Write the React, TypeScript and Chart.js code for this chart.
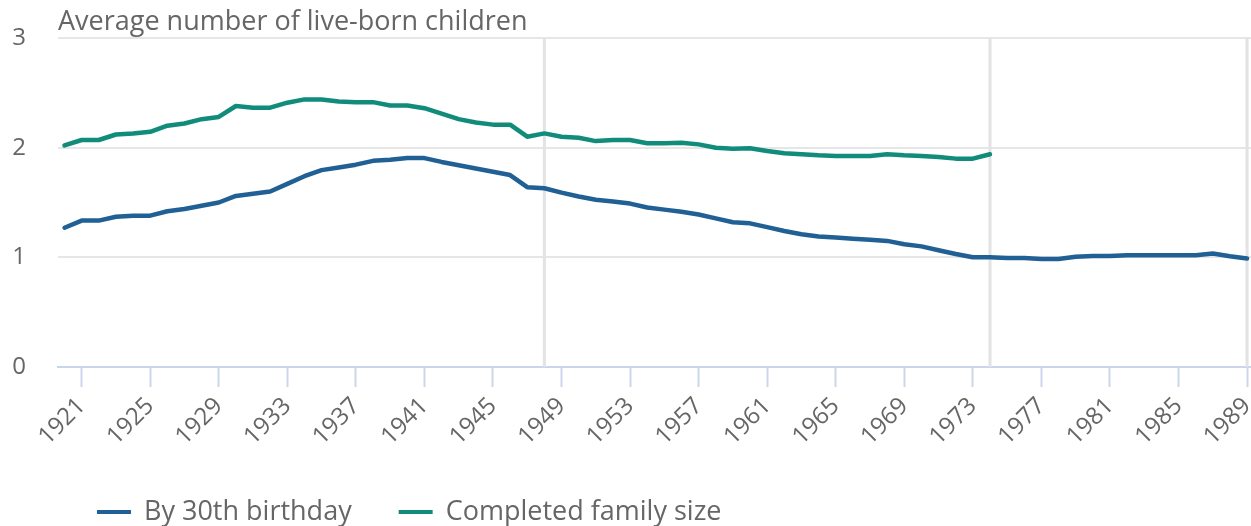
import React, { useEffect, useRef } from "react";
import { Chart, registerables } from "chart.js";

Chart.register(...registerables);

// ---------- data ----------
const years = [
  1920, 1921, 1922, 1923, 1924, 1925, 1926, 1927, 1928, 1929,
  1930, 1931, 1932, 1933, 1934, 1935, 1936, 1937, 1938, 1939,
  1940, 1941, 1942, 1943, 1944, 1945, 1946, 1947, 1948, 1949,
  1950, 1951, 1952, 1953, 1954, 1955, 1956, 1957, 1958, 1959,
  1960, 1961, 1962, 1963, 1964, 1965, 1966, 1967, 1968, 1969,
  1970, 1971, 1972, 1973, 1974, 1975, 1976, 1977, 1978, 1979,
  1980, 1981, 1982, 1983, 1984, 1985, 1986, 1987, 1988, 1989,
];

const by30thBirthday = [
  1.27, 1.335, 1.335, 1.37, 1.38, 1.38, 1.42, 1.44, 1.47, 1.5,
  1.56, 1.58, 1.6, 1.67, 1.74, 1.795, 1.82, 1.845, 1.88, 1.89,
  1.905, 1.905, 1.87, 1.84, 1.81, 1.78, 1.75, 1.64, 1.63, 1.59,
  1.555, 1.525, 1.51, 1.49, 1.455, 1.435, 1.415, 1.39, 1.355, 1.32,
  1.31, 1.275, 1.24, 1.21, 1.19, 1.18, 1.17, 1.16, 1.15, 1.12,
  1.1, 1.065, 1.03, 1.0, 1.0, 0.995, 0.995, 0.985, 0.985, 1.005,
  1.013, 1.013, 1.02, 1.02, 1.02, 1.02, 1.02, 1.035, 1.01, 0.99,
];

// Completed family size: 1920 to 1974 only
const completedFamilySize = [
  2.02, 2.07, 2.07, 2.12, 2.13, 2.145, 2.2, 2.22, 2.26, 2.28,
  2.38, 2.365, 2.365, 2.41, 2.44, 2.44, 2.42, 2.415, 2.415, 2.385,
  2.385, 2.36, 2.31, 2.26, 2.23, 2.21, 2.21, 2.1, 2.13, 2.1,
  2.09, 2.06, 2.07, 2.07, 2.04, 2.04, 2.045, 2.03, 2.0, 1.99,
  1.995, 1.97, 1.95, 1.94, 1.93, 1.925, 1.925, 1.925, 1.94, 1.93,
  1.925, 1.915, 1.9, 1.9, 1.94,
];

const xTickYears = [
  1921, 1925, 1929, 1933, 1937, 1941, 1945, 1949, 1953, 1957,
  1961, 1965, 1969, 1973, 1977, 1981, 1985, 1989,
];
const yTickValues = [0, 1, 2, 3];
const plotLineYears = [1948, 1974, 1989];

const seriesNames = ["By 30th birthday", "Completed family size"];
const seriesColors = ["#206095", "#118c7b"];
const axisTitle = "Average number of live-born children";

// ---------- styling ----------
const FONT = "'Open Sans', sans-serif";
const TEXT_COLOR = "#666666";
const W = 1251;
const H = 526;

const plotLinesPlugin = {
  id: "plotLines",
  beforeDatasetsDraw(chart: any) {
    const { ctx, chartArea, scales } = chart;
    ctx.save();
    ctx.strokeStyle = "#e3e3e3";
    ctx.lineWidth = 3;
    for (const yr of plotLineYears) {
      const x = scales.x.getPixelForValue(yr);
      ctx.beginPath();
      ctx.moveTo(x, chartArea.top);
      ctx.lineTo(x, chartArea.bottom);
      ctx.stroke();
    }
    ctx.restore();
  },
};

const textPlugin = {
  id: "textPlugin",
  afterDraw(chart: any) {
    const { ctx, chartArea } = chart;
    ctx.save();
    // axis title
    ctx.font = `27px ${FONT}`;
    ctx.fillStyle = TEXT_COLOR;
    ctx.textAlign = "left";
    ctx.textBaseline = "alphabetic";
    ctx.fillText(axisTitle, chartArea.left, 30);

    // legend
    const legendY = 512;
    let x = 97;
    const symW = 34;
    const gap = 13;
    const itemGap = 47;
    ctx.font = `27px ${FONT}`;
    ctx.textBaseline = "middle";
    chart.data.datasets.forEach((ds: any) => {
      ctx.strokeStyle = ds.borderColor;
      ctx.lineWidth = 4;
      ctx.beginPath();
      ctx.moveTo(x, legendY);
      ctx.lineTo(x + symW, legendY);
      ctx.stroke();
      x += symW + gap;
      ctx.fillStyle = TEXT_COLOR;
      ctx.fillText(ds.label, x, legendY);
      x += ctx.measureText(ds.label).width + itemGap;
    });
    ctx.restore();
  },
};

export default function App() {
  const canvasRef = useRef<HTMLCanvasElement | null>(null);

  useEffect(() => {
    const canvas = canvasRef.current;
    if (!canvas) return;

    const lineStyle = {
      borderWidth: 4.5,
      pointRadius: 0,
      tension: 0,
      borderJoinStyle: "round",
      borderCapStyle: "round",
    };

    const chart = new Chart(canvas, {
      type: "line",
      data: {
        datasets: [
          {
            label: seriesNames[0],
            data: by30thBirthday.map((v, i) => ({ x: years[i], y: v })),
            borderColor: seriesColors[0],
            backgroundColor: seriesColors[0],
            ...lineStyle,
          },
          {
            label: seriesNames[1],
            data: completedFamilySize.map((v, i) => ({ x: years[i], y: v })),
            borderColor: seriesColors[1],
            backgroundColor: seriesColors[1],
            ...lineStyle,
          },
        ],
      },
      options: {
        animation: false,
        responsive: false,
        devicePixelRatio: 1,
        layout: { padding: { top: 38, left: 0, right: 0, bottom: 0 } },
        plugins: {
          legend: { display: false },
          title: { display: false },
          tooltip: { enabled: false },
        },
        scales: {
          x: {
            type: "linear",
            min: 1919.62,
            max: 1989.23,
            afterBuildTicks: (s: any) => {
              s.ticks = xTickYears.map((v) => ({ value: v }));
            },
            afterFit: (s: any) => {
              s.height = 159;
              s.paddingLeft = 0;
              s.paddingRight = 0;
            },
            grid: {
              drawOnChartArea: false,
              drawTicks: true,
              tickLength: 20,
              tickColor: "#ccd6eb",
              tickWidth: 2,
            },
            border: { color: "#ccd6eb", width: 2 },
            ticks: {
              autoSkip: false,
              minRotation: 45,
              maxRotation: 45,
              color: TEXT_COLOR,
              font: { family: FONT, size: 24 },
              padding: 5,
              callback: (v: any) => String(v),
            },
          },
          y: {
            min: 0,
            max: 3,
            afterBuildTicks: (s: any) => {
              s.ticks = yTickValues.map((v) => ({ value: v }));
            },
            afterFit: (s: any) => {
              s.width = 58;
              s.paddingTop = 0;
              s.paddingBottom = 0;
            },
            grid: {
              color: "#e6e6e6",
              lineWidth: 2,
              drawTicks: false,
            },
            border: { display: false },
            ticks: {
              color: TEXT_COLOR,
              font: { family: FONT, size: 24 },
              padding: 32,
            },
          },
        },
      },
      plugins: [plotLinesPlugin, textPlugin],
    } as any);

    return () => chart.destroy();
  }, []);

  return (
    <div style={{ position: "absolute", left: 0, top: 0, width: W, height: H, background: "#fff" }}>
      <canvas ref={canvasRef} width={W} height={H} />
    </div>
  );
}
